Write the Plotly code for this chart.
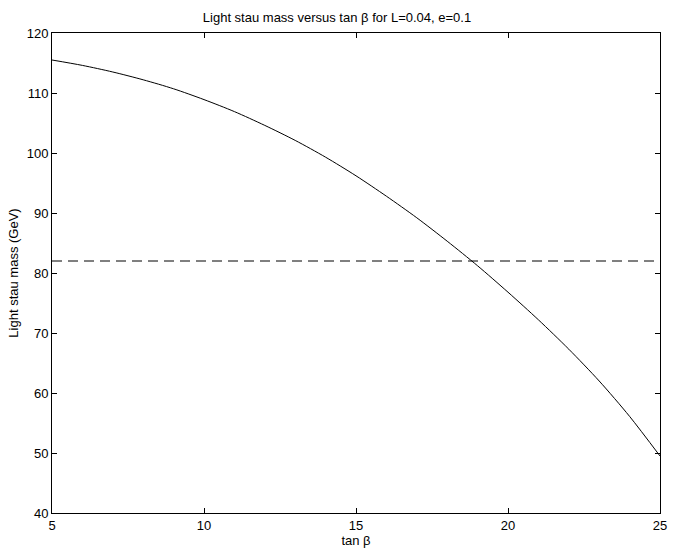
import plotly.graph_objects as go

# tan beta values and light stau mass (GeV)
tan_beta = [5, 6, 7, 8, 9, 10, 11, 12, 13, 14, 15, 16, 17, 18, 19, 20, 21, 22, 23, 24, 25]
stau_mass = [115.5, 114.6, 113.5, 112.2, 110.7, 108.9, 106.9, 104.6, 102.1, 99.3, 96.2,
             92.8, 89.2, 85.3, 81.2, 76.8, 72.2, 67.3, 62.0, 56.1, 49.5]

# LEP limit line
limit_x = [5, 25]
limit_y = [82, 82]

fig = go.Figure()

fig.add_trace(go.Scatter(
    x=tan_beta, y=stau_mass,
    mode='lines',
    line=dict(color='black', width=1, shape='spline', smoothing=0.8),
    showlegend=False
))

fig.add_trace(go.Scatter(
    x=limit_x, y=limit_y,
    mode='lines',
    line=dict(color='black', width=1, dash='10px,6px'),
    showlegend=False
))

axis_style = dict(
    showgrid=False, zeroline=False, automargin=False,
    showline=True, linecolor='black', linewidth=1, mirror='ticks',
    ticks='inside', ticklen=5, tickcolor='black',
    tickfont=dict(size=13, color='black'),
)

fig.update_layout(
    width=674, height=554,
    margin=dict(l=52, r=14, t=33, b=41),
    paper_bgcolor='white', plot_bgcolor='white',
    font=dict(family='Liberation Sans, Arial, sans-serif', size=13, color='black'),
    title=dict(text='Light stau mass versus tan β for L=0.04, e=0.1',
               x=0.5, xanchor='center', y=0.969, yanchor='middle',
               font=dict(size=13)),
    xaxis=dict(range=[5, 25], tickvals=[5, 10, 15, 20, 25],
               title=dict(text='tan β', standoff=2, font=dict(size=13)), **axis_style),
    yaxis=dict(range=[40, 120], tickvals=[40, 50, 60, 70, 80, 90, 100, 110, 120],
               title=dict(text='Light stau mass (GeV)', standoff=5, font=dict(size=13)),
               **axis_style),
)

# drop the default page margin so the figure sits at the window's corner
fig.write_html('out.html', config={'displayModeBar': False},
               post_script="document.body.style.margin='0';")
